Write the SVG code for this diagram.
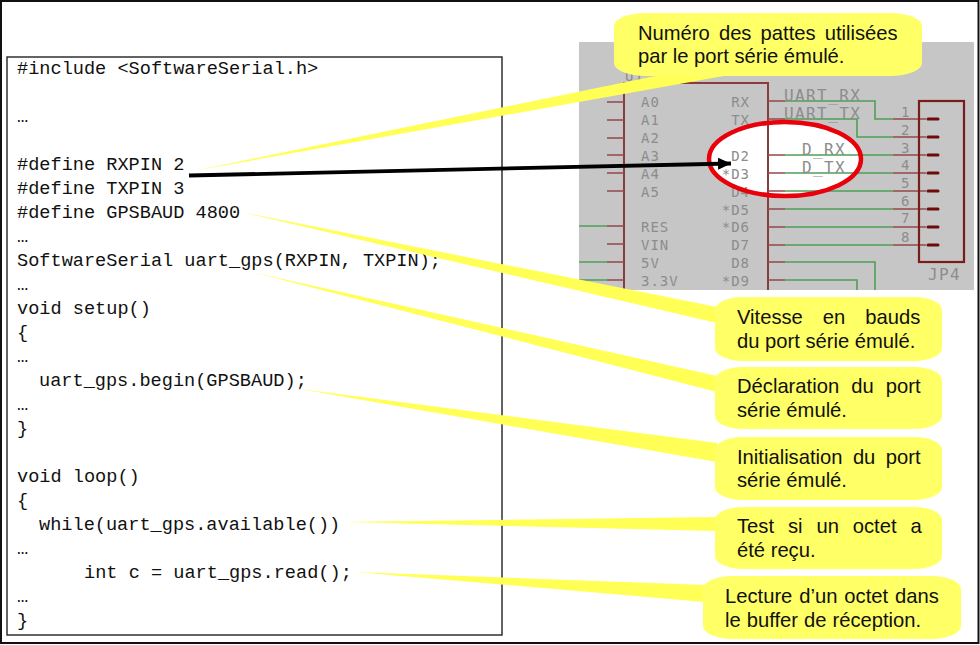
<svg xmlns="http://www.w3.org/2000/svg" width="980" height="645" viewBox="0 0 980 645">
<style>
.code{font-family:"Liberation Mono","DejaVu Sans Mono",monospace;font-size:18.6px;fill:#111}
.call{font-family:"Liberation Sans",Arial,sans-serif;font-size:20.2px;fill:#111}
.bub{fill:#ffff66}
.wedge{fill:#ffff55}
.sl{font-family:"DejaVu Sans Mono",monospace;font-size:14px;letter-spacing:1px;fill:#8c8c8c}
.sb{font-family:"DejaVu Sans Mono",monospace;font-size:16px;letter-spacing:1.4px;fill:#8c8c8c}
.e{text-anchor:end}
.red{stroke:#94484a;stroke-width:1.6;fill:none}
.grn{stroke:#4f9e55;stroke-width:1.6;fill:none}
.chip{stroke:#8a3c3c;stroke-width:2;fill:none}
.pin{stroke:#6e0a0a;stroke-width:3;stroke-linecap:round}
</style>
<defs>
<marker id="ah" markerUnits="userSpaceOnUse" markerWidth="14" markerHeight="12" refX="13" refY="6" orient="auto"><path d="M0 0L13 6L0 12Z" fill="#000"/></marker>
</defs>
<rect x="0" y="0" width="980" height="645" fill="#fff"/>
<g id="schematic">
<rect x="579" y="42" width="395" height="248" fill="#c6c6c6"/>
<ellipse cx="785" cy="159" rx="76" ry="37" fill="#fff"/>
<path class="chip" d="M624 290V83H768V290"/>
<path class="red" d="M607 102H624M607 120H624M607 138H624M607 155H624M607 173H624M607 191H624M607 226H624M607 244H624M607 262H624M607 280H624"/>
<path class="grn" d="M579 226H607M579 262H607M579 280H607"/>
<path class="red" d="M768 101H785M768 119H785M768 155H785M768 173H785M768 191H785M768 209H785M768 227H785M768 245H785M768 262H785M768 280H785"/>
<path class="grn" d="M785 101H875V119H893M785 119H857V137H893M785 155H893M785 173H893M785 191H893M785 209H893M785 227H893M785 245H893M785 262H875V290M785 280H857V290"/>
<path class="red" d="M893 119H926M893 137H926M893 155H926M893 173H926M893 191H926M893 209H926M893 227H926M893 245H926"/>
<rect x="919" y="101" width="45" height="161" fill="none" stroke="#7a1c1c" stroke-width="2.2"/>
<path class="pin" d="M928 119H938M928 137H938M928 155H938M928 173H938M928 191H938M928 209H938M928 227H938M928 245H938"/>
<text class="sl" x="625" y="81">U1</text>
<text class="sl" x="641" y="107">A0</text><text class="sl" x="641" y="125">A1</text><text class="sl" x="641" y="143">A2</text><text class="sl" x="641" y="161">A3</text><text class="sl" x="641" y="179">A4</text><text class="sl" x="641" y="197">A5</text><text class="sl" x="641" y="232">RES</text><text class="sl" x="641" y="250">VIN</text><text class="sl" x="641" y="268">5V</text><text class="sl" x="641" y="286">3.3V</text>
<text class="sl e" x="750" y="107">RX</text><text class="sl e" x="750" y="125">TX</text><text class="sl e" x="750" y="161">D2</text><text class="sl e" x="750" y="179">*D3</text><text class="sl e" x="750" y="197">D4</text><text class="sl e" x="750" y="215">*D5</text><text class="sl e" x="750" y="232">*D6</text><text class="sl e" x="750" y="250">D7</text><text class="sl e" x="750" y="268">D8</text><text class="sl e" x="750" y="286">*D9</text>
<text class="sb" x="784" y="101">UART_RX</text><text class="sb" x="784" y="119">UART_TX</text><text class="sb" x="802" y="155">D_RX</text><text class="sb" x="802" y="173">D_TX</text>
<text class="sl" x="901" y="117">1</text><text class="sl" x="901" y="135">2</text><text class="sl" x="901" y="153">3</text><text class="sl" x="901" y="170">4</text><text class="sl" x="901" y="188">5</text><text class="sl" x="901" y="206">6</text><text class="sl" x="901" y="223">7</text><text class="sl" x="901" y="242">8</text>
<text class="sb" x="928" y="280">JP4</text>
<ellipse cx="785" cy="159" rx="76" ry="37" fill="none" stroke="#e8000a" stroke-width="4.5"/>
</g>
<g id="code-box">
<rect x="7" y="57" width="495" height="578" fill="#fff" stroke="#222" stroke-width="1.4"/>
<text class="code" x="17" y="74">#include &lt;SoftwareSerial.h&gt;</text>
<text class="code" x="17" y="122">…</text>
<text class="code" x="17" y="170">#define RXPIN 2</text>
<text class="code" x="17" y="194">#define TXPIN 3</text>
<text class="code" x="17" y="218">#define GPSBAUD 4800</text>
<text class="code" x="17" y="242">…</text>
<text class="code" x="17" y="266">SoftwareSerial uart_gps(RXPIN, TXPIN);</text>
<text class="code" x="17" y="290">…</text>
<text class="code" x="17" y="314">void setup()</text>
<text class="code" x="17" y="338">{</text>
<text class="code" x="17" y="362">…</text>
<text class="code" x="39" y="386">uart_gps.begin(GPSBAUD);</text>
<text class="code" x="17" y="410">…</text>
<text class="code" x="17" y="434">}</text>
<text class="code" x="17" y="482">void loop()</text>
<text class="code" x="17" y="506">{</text>
<text class="code" x="39" y="530">while(uart_gps.available())</text>
<text class="code" x="17" y="554">…</text>
<text class="code" x="84" y="578">int c = uart_gps.read();</text>
<text class="code" x="17" y="602">…</text>
<text class="code" x="17" y="626">}</text>
</g>
<g id="connectors">
<polygon class="wedge" points="193,171 665,74 735,74"/>
<polygon class="wedge" points="241,212 717,307 717,323"/>
<polygon class="wedge" points="252,272 717,376 717,392"/>
<polygon class="wedge" points="300,389 717,443 717,462"/>
<polygon class="wedge" points="345,522 717,517 717,531"/>
<polygon class="wedge" points="355,572 705,585 705,602"/>
<line x1="189" y1="175.5" x2="731" y2="163.5" stroke="#000" stroke-width="3.8" marker-end="url(#ah)"/>
</g>
<g id="callout-pattes">
<rect class="bub" x="614" y="13" width="308" height="63" rx="32" ry="13"/>
<text class="call" x="638" y="40" word-spacing="3.5">Numéro des pattes utilisées</text>
<text class="call" x="638" y="63">par le port série émulé.</text>
</g>
<g id="callout-vitesse">
<rect class="bub" x="715" y="297" width="227" height="64" rx="28" ry="13"/>
<text class="call" x="737" y="324" word-spacing="14.4">Vitesse en bauds</text>
<text class="call" x="737" y="348">du port série émulé.</text>
</g>
<g id="callout-declaration">
<rect class="bub" x="715" y="367" width="227" height="62" rx="28" ry="13"/>
<text class="call" x="737" y="393" word-spacing="6.5">Déclaration du port</text>
<text class="call" x="737" y="417">série émulé.</text>
</g>
<g id="callout-init">
<rect class="bub" x="715" y="437" width="227" height="63" rx="28" ry="13"/>
<text class="call" x="737" y="464" word-spacing="4.8">Initialisation du port</text>
<text class="call" x="737" y="487">série émulé.</text>
</g>
<g id="callout-test">
<rect class="bub" x="715" y="507" width="227" height="62" rx="28" ry="13"/>
<text class="call" x="737" y="533" word-spacing="8.3">Test si un octet a</text>
<text class="call" x="737" y="557">été reçu.</text>
</g>
<g id="callout-lecture">
<rect class="bub" x="703" y="576" width="258" height="63" rx="30" ry="13"/>
<text class="call" x="725" y="603" word-spacing="1.3">Lecture d’un octet dans</text>
<text class="call" x="725" y="627" word-spacing="0.4">le buffer de réception.</text>
</g>
<rect id="frame" x="1" y="1" width="977.5" height="642" fill="none" stroke="#111" stroke-width="2"/>
</svg>
